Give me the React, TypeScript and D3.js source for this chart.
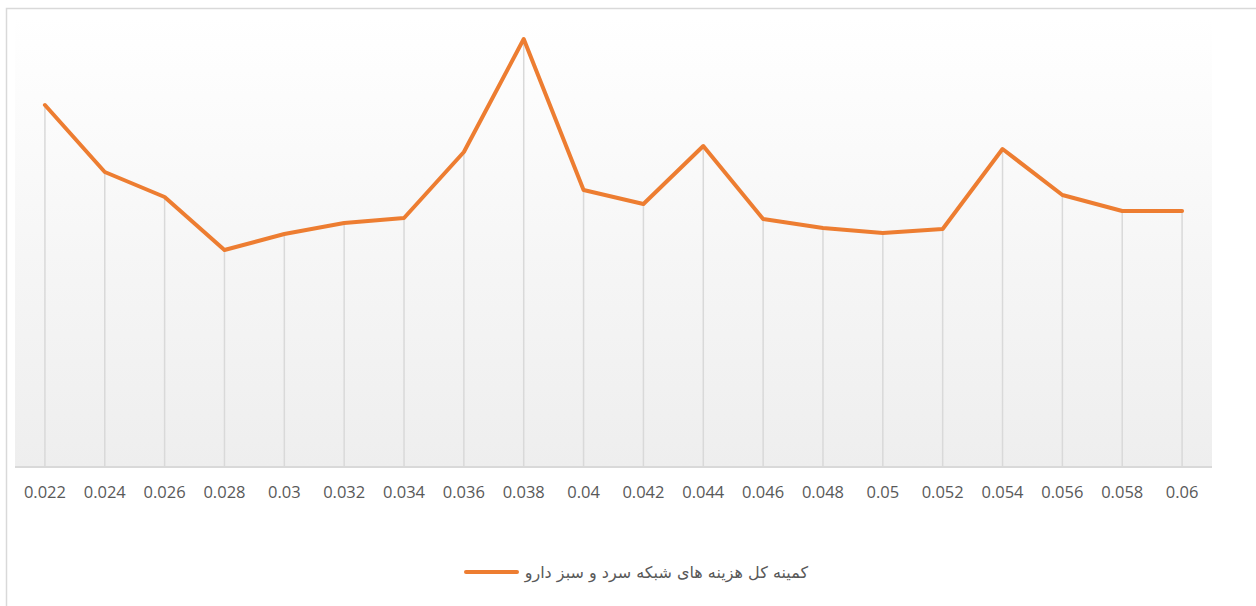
import { line as d3Line, scaleBand, scaleLinear } from "d3";

const categories = [
  "0.022", "0.024", "0.026", "0.028", "0.03", "0.032", "0.034", "0.036", "0.038", "0.04",
  "0.042", "0.044", "0.046", "0.048", "0.05", "0.052", "0.054", "0.056", "0.058", "0.06",
];

// total cost of cold & green drug network (relative units)
const costValues = [
  362, 295, 270, 217, 233, 244, 249, 315, 428, 277,
  263, 321, 248, 239, 234, 238, 318, 272, 256, 256,
];

const legendLabel = "کمینه کل هزینه های شبکه سرد و سبز دارو";

const W = 1256;
const H = 606;
const plot = { left: 15, right: 1212, top: 17, bottom: 467 };

export default function App() {
  const x = scaleBand<string>()
    .domain(categories)
    .range([plot.left, plot.right])
    .padding(0);
  const y = scaleLinear().domain([0, 450]).range([plot.bottom, plot.top]);

  const cx = (c: string) => (x(c) ?? 0) + x.bandwidth() / 2;
  const data = categories.map((c, i) => ({ c, v: costValues[i] }));

  const path = d3Line<(typeof data)[number]>()
    .x((d) => cx(d.c))
    .y((d) => y(d.v))(data) ?? "";

  return (
    <svg
      width={W}
      height={H}
      viewBox={`0 0 ${W} ${H}`}
      style={{ position: "fixed", top: 0, left: 0, background: "#fff" }}
    >
      <defs>
        <linearGradient id="plot-bg" x1="0" y1="0" x2="0" y2="1">
          <stop offset="0%" stopColor="#ffffff" />
          <stop offset="100%" stopColor="#eeeeee" />
        </linearGradient>
      </defs>

      {/* chart border */}
      <rect x={6.5} y={8.5} width={W + 10} height={H + 10} fill="none" stroke="#d9d9d9" strokeWidth={1.5} />

      {/* plot background */}
      <rect
        x={plot.left}
        y={plot.top}
        width={plot.right - plot.left}
        height={plot.bottom - plot.top}
        fill="url(#plot-bg)"
      />

      {/* drop lines */}
      {data.map((d) => (
        <line
          key={d.c}
          x1={cx(d.c)}
          x2={cx(d.c)}
          y1={y(d.v)}
          y2={plot.bottom}
          stroke="#d9d9d9"
          strokeWidth={1.5}
        />
      ))}

      {/* x axis */}
      <line x1={plot.left} x2={plot.right} y1={plot.bottom} y2={plot.bottom} stroke="#d9d9d9" strokeWidth={2} />
      {categories.map((c) => (
        <text
          key={c}
          x={cx(c)}
          y={498}
          textAnchor="middle"
          fontFamily="'Open Sans', sans-serif"
          fontSize={16.5}
          fill="#595959"
        >
          {c}
        </text>
      ))}

      {/* series line */}
      <path
        d={path}
        fill="none"
        stroke="#ed7d31"
        strokeWidth={4}
        strokeLinejoin="round"
        strokeLinecap="round"
      />

      {/* legend */}
      <line x1={466} x2={517} y1={572} y2={572} stroke="#ed7d31" strokeWidth={4} strokeLinecap="round" />
      <text
        x={808}
        y={578}
        textAnchor="end"
        fontFamily="'DejaVu Sans', sans-serif"
        fontSize={16}
        fill="#595959"
      >
        {legendLabel}
      </text>
    </svg>
  );
}
